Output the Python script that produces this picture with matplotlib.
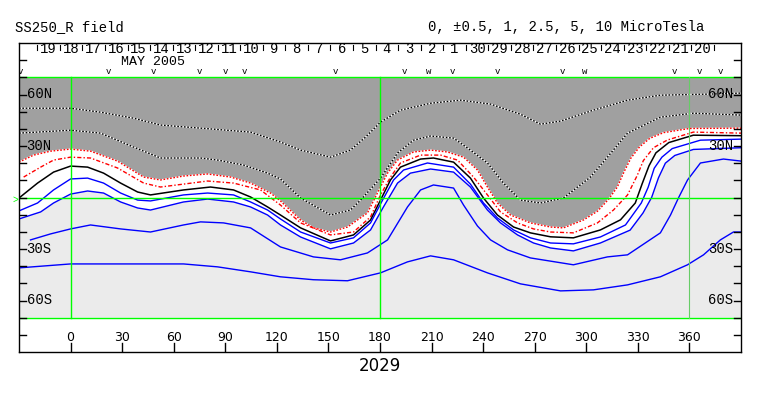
import numpy as np
from matplotlib import pyplot as plt

# contour lines of the source-surface field (Carrington lon, lat)
# -5 and -2.5 uT (dotted, inside the negative region)
d5_lon = [-30, 0, 17.4, 36.6, 52.3, 75.6, 104.7, 122.1, 133.8, 151.2, 162.8, 171.6, 180.3, 191.9, 209.4, 226.8, 244.3, 261.7, 273.4, 285, 304.2, 324, 343.1, 370.5, 390]
d5_lat = [52, 52, 49.7, 46.2, 42.2, 40.4, 38.1, 32.3, 27.6, 23.5, 27.6, 35.2, 43.9, 50.9, 54.9, 56.7, 54.4, 48.5, 42.7, 44.5, 50.9, 56.7, 59.6, 60.2, 60.8]
d25_lon = [-30, 0, 17.4, 36.6, 52.3, 75.6, 85.5, 100.6, 114.6, 122.1, 133.8, 151.2, 162.8, 168.7, 180.3, 190.2, 199.5, 209.4, 222.8, 232.6, 242.5, 251.8, 261.7, 273.4, 286.7, 302.4, 312.3, 324, 343.1, 362.3, 390]
d25_lat = [37.5, 39.2, 37.5, 29.4, 23, 23, 21.8, 18.9, 14.2, 10.8, -0.3, -10.2, -7.3, -1.5, 11.3, 25.9, 33.4, 35.8, 34.6, 27.6, 20.1, 8.4, -1.5, -3.2, -0.3, 11.9, 23.5, 37.5, 46.8, 49.1, 48]

# -1 uT (red dotted) and -0.5 uT (red dash-dot)
r1_lon = [-30, -21.5, -11.6, 0, 11.6, 27.3, 42.5, 52.3, 65.7, 79.7, 93.1, 104.7, 116.3, 122.1, 133.8, 141.3, 151.2, 161.1, 172.7, 178.5, 184.4, 190.2, 199.5, 209.4, 219.3, 228.6, 236.7, 242.5, 248.3, 255.9, 267.5, 279.2, 286.7, 298.4, 306.5, 313, 318, 322, 326, 331, 337, 345, 360, 390]
r1_lat = [20.6, 24.7, 27, 28.2, 27, 21.2, 11.9, 10.2, 12.5, 13.7, 11.9, 8.4, 2.6, -2.0, -13.1, -17.7, -20.1, -17.2, -9.0, 2.6, 14.2, 21.8, 26.5, 27.6, 26.5, 23.5, 16, 6.1, -3.2, -10.2, -14.8, -17.2, -17.7, -13.1, -8, -1, 6, 15, 23, 29.5, 34.5, 37.8, 40.2, 40.4]
r05_lon = [-27.3, -17.4, -9.9, 0, 11.6, 27.3, 42.5, 52.3, 65.7, 79.7, 94.8, 110.5, 122.1, 133.8, 151.2, 164.6, 174.5, 180.3, 186.1, 191.9, 203.6, 215.2, 225.1, 234.4, 242.5, 250.1, 260, 269.3, 279.2, 292.5, 306.5, 315.8, 324, 329.7, 333.2, 339.1, 347.2, 362.3, 390]
r05_lat = [11.9, 17.7, 21.8, 23.5, 23, 17.2, 8.4, 6.1, 7.8, 9.6, 8.4, 4.4, -4.4, -14.8, -21.8, -20.1, -11.3, 1.5, 11.9, 20.1, 24.7, 24.7, 21.8, 11.9, 1.5, -8.4, -14.8, -18.3, -20.1, -20.6, -14.8, -7.3, 1.5, 13, 21.5, 29, 33.5, 38.1, 37.5]

# neutral line
b0_lon = [-30, -19.2, -9.9, 0, 9.9, 19.2, 29.1, 39, 46.5, 65.7, 81.4, 94.8, 104.7, 114.6, 122.1, 133.8, 151.2, 164.6, 174.5, 180.3, 186.1, 191.9, 203.6, 211.1, 222.8, 232.6, 240.2, 248.3, 257.7, 267.5, 279.2, 292.5, 308.2, 319.9, 328.5, 332.5, 336.5, 340.5, 348, 362.3, 390]
b0_lat = [-0.3, 8.4, 14.8, 18.3, 17.7, 14.2, 8.4, 3.2, 1.5, 4.4, 6.1, 4.4, 0.3, -5.5, -10.2, -17.7, -25.3, -21.8, -13.1, -1.5, 10.2, 17.7, 22.4, 23, 20.6, 11.3, -0.3, -10.2, -17.2, -20.6, -22.9, -23.5, -18.9, -13, -3.2, 8, 18.5, 26, 32, 36.3, 36]

# +0.5, +1, +2.5, +5 uT (blue)
b1_lon = [-30, -19.2, -9.9, 0, 9.9, 19.2, 29.1, 39, 46.5, 65.7, 79.7, 94.8, 104.7, 114.6, 122.1, 133.8, 151.2, 164.6, 174.5, 181.5, 187.9, 193.7, 207.6, 222.8, 232.6, 240.2, 248.3, 257.7, 267.5, 279.2, 292.5, 308.2, 322.8, 332, 336, 339.5, 344, 350, 366.4, 390]
b1_lat = [-7.8, -3.2, 4.4, 10.8, 11.3, 8.4, 2.6, -1.5, -2, 1.5, 2.6, 1.5, -2.6, -7.3, -12.5, -20.1, -26.5, -23.5, -14.8, -1.5, 10.2, 16, 20.1, 17.7, 7.8, -3.2, -11.9, -18.9, -23.5, -26.5, -27, -23, -16, -3.2, 6, 17, 23.5, 28.5, 33.4, 34]
b2_lon = [-30, -17.4, -9.9, 0, 9.9, 19.2, 29.1, 39, 46.5, 65.7, 79.7, 94.8, 104.7, 114.6, 122.1, 133.8, 151.2, 164.6, 174.5, 182, 190.2, 197.7, 209.4, 222.8, 232.6, 242.5, 250.1, 260, 269.3, 279.2, 292.5, 308.2, 325.5, 333, 338, 342, 346, 351.5, 362.3, 390]
b2_lat = [-12.5, -8.4, -3.2, 2, 3.8, 2.6, -2.6, -6.1, -7.3, -2.6, -0.9, -2.6, -5.5, -10.2, -16, -23, -29.9, -26.5, -18.9, -5.5, 8.4, 14.2, 16.6, 14.8, 6.1, -7.3, -14.8, -21.8, -26.5, -29.4, -31.1, -26.5, -19, -9, 0, 11.5, 20, 24.5, 28, 29]
b3_lon = [-23.3, -11.6, 0, 11.6, 29.1, 46.5, 65.7, 75.6, 89, 104.7, 122.1, 141.3, 157, 172.7, 184.4, 196, 203.6, 211.1, 222.8, 228.6, 236.7, 244.3, 254.2, 267.5, 292.5, 312.3, 324, 343.1, 349, 353.6, 358.9, 366.4, 379.8, 390]
b3_lat = [-24.7, -21.2, -18.3, -16, -18.3, -20.1, -16, -14.2, -14.8, -17.7, -28.8, -34.6, -36.3, -32.3, -24.7, -5.5, 4.4, 7.3, 5.5, -4.4, -16.6, -24.7, -30.5, -35.2, -39.2, -34.6, -33.4, -20.6, -10.2, -0.3, 10.2, 20.1, 22.4, 21.2]
b4_lon = [-30, 0, 36.6, 65.7, 85.5, 104.7, 122.1, 141.3, 161.1, 180.3, 196, 209.4, 222.8, 242.5, 261.7, 285, 304.2, 324, 343.1, 358.9, 368.2, 378, 385.6, 390]
b4_lat = [-41, -38.7, -38.7, -38.7, -40.4, -43.3, -46.2, -47.9, -48.5, -43.9, -37.5, -34, -36.3, -43.9, -50.3, -54.4, -53.8, -50.9, -46.2, -39.2, -33.4, -24.7, -20.1, -20.1]

# date row across the top (days run backwards as longitude grows)
days = [19, 18, 17, 16, 15, 14, 13, 12, 11, 10, 9, 8, 7, 6, 5, 4, 3, 2, 1,
        30, 29, 28, 27, 26, 25, 24, 23, 22, 21, 20]
day_lon0 = -12.8
day_step = 13.12
v_lon = [-29, 22, 48, 75, 90, 101, 154, 194, 208, 222, 248, 286, 299, 351, 366, 378]
v_txt = ['v', 'v', 'v', 'v', 'v', 'v', 'v', 'v', 'w', 'v', 'v', 'v', 'w', 'v', 'v', 'v']

lon_ticks = [0, 30, 60, 90, 120, 150, 180, 210, 240, 270, 300, 330, 360]
lat_lab = [60, 30, -30, -60]
lat_txt = ['60N', '30N', '30S', '60S']

mono = 'Liberation Mono'
green = '#00ff00'

fig = plt.figure(figsize=(7.63, 3.96), dpi=100)
ax = fig.add_axes([19/763, 44/396, 722/763, 309/396])
ax.set_xlim(-30, 390)
ax.set_ylim(-90, 90)
ax.set_xticks([]), ax.set_yticks([])
for s in ax.spines.values():
    s.set_linewidth(1.0)

# shading: negative region dark, positive region light, weak field white
ax.fill(r1_lon + [390, -30], r1_lat + [70, 70], color='#a0a0a0', lw=0)
ax.fill(b2_lon + [390, -30], b2_lat + [-70, -70], color='#ebebeb', lw=0)

for lo, la in [(d5_lon, d5_lat), (d25_lon, d25_lat)]:
    ax.plot(lo, la, color='white', lw=1)
    ax.plot(lo, la, color='black', lw=1, dashes=(1.2, 1.2))
ax.plot(r1_lon, r1_lat, color='white', lw=1)
ax.plot(r1_lon, r1_lat, color='red', lw=1, dashes=(1.2, 1.2))
ax.plot(r05_lon, r05_lat, color='red', lw=1, dashes=(3, 1.5, 1, 1.5))
ax.plot(b0_lon, b0_lat, color='black', lw=1.1)
for lo, la in [(b1_lon, b1_lat), (b2_lon, b2_lat), (b3_lon, b3_lat), (b4_lon, b4_lat)]:
    ax.plot(lo, la, color='blue', lw=1)

# green grid
for la in [70, 0, -70]:
    ax.plot([-30, 390], [la, la], color=green, lw=1)
ax.plot([0, 0], [-70, 70], color=green, lw=1)
ax.plot([180, 180], [-70, 70], color=green, lw=1)
ax.plot([360, 360], [-70, 70], color='#66cc66', lw=0.8)
ax.text(-30.5, -1.5, '>', color=green, ha='right', va='center', fontsize=7,
        family=mono, clip_on=False)

# side ticks and latitude labels
for la in range(-80, 81, 10):
    ax.plot([-30, -25.9], [la, la], color='black', lw=1)
    ax.plot([390, 385.9], [la, la], color='black', lw=1)
for la, t in zip(lat_lab, lat_txt):
    ax.text(-25.6, la, t, ha='left', va='center', fontsize=10, family=mono)
    ax.text(385.6, la, t, ha='right', va='center', fontsize=10, family=mono)

# longitude axis
for lo in lon_ticks:
    ax.plot([lo, lo], [-90, -84.8], color='black', lw=1)
    ax.text(lo, -81.6, str(lo), ha='center', va='center', fontsize=9)
ax.text(180, -98, '2029', ha='center', va='center', fontsize=12, clip_on=False)

# dates
for i, d in enumerate(days):
    ax.text(day_lon0 + i * day_step, 86.3, str(d), ha='center', va='center',
            fontsize=10, family=mono)
for i in range(len(days) + 1):
    b = day_lon0 - day_step / 2 + i * day_step
    ax.plot([b, b], [88.6, 85.8], color='black', lw=0.8)
ax.text(47.7, 78.8, 'MAY 2005', ha='center', va='center', fontsize=9.5, family=mono)
for lo, t in zip(v_lon, v_txt):
    ax.text(lo, 70.6, t, ha='center', va='bottom', fontsize=6.5, family=mono, clip_on=True)

fig.text(15/763, 1 - 27/396, 'SS250_R field', fontsize=10, family=mono, va='center')
fig.text(428/763, 1 - 27/396, '0, \u00b10.5, 1, 2.5, 5, 10 MicroTesla', fontsize=10,
         family=mono, va='center')

fig.savefig('out.png', dpi=100)
